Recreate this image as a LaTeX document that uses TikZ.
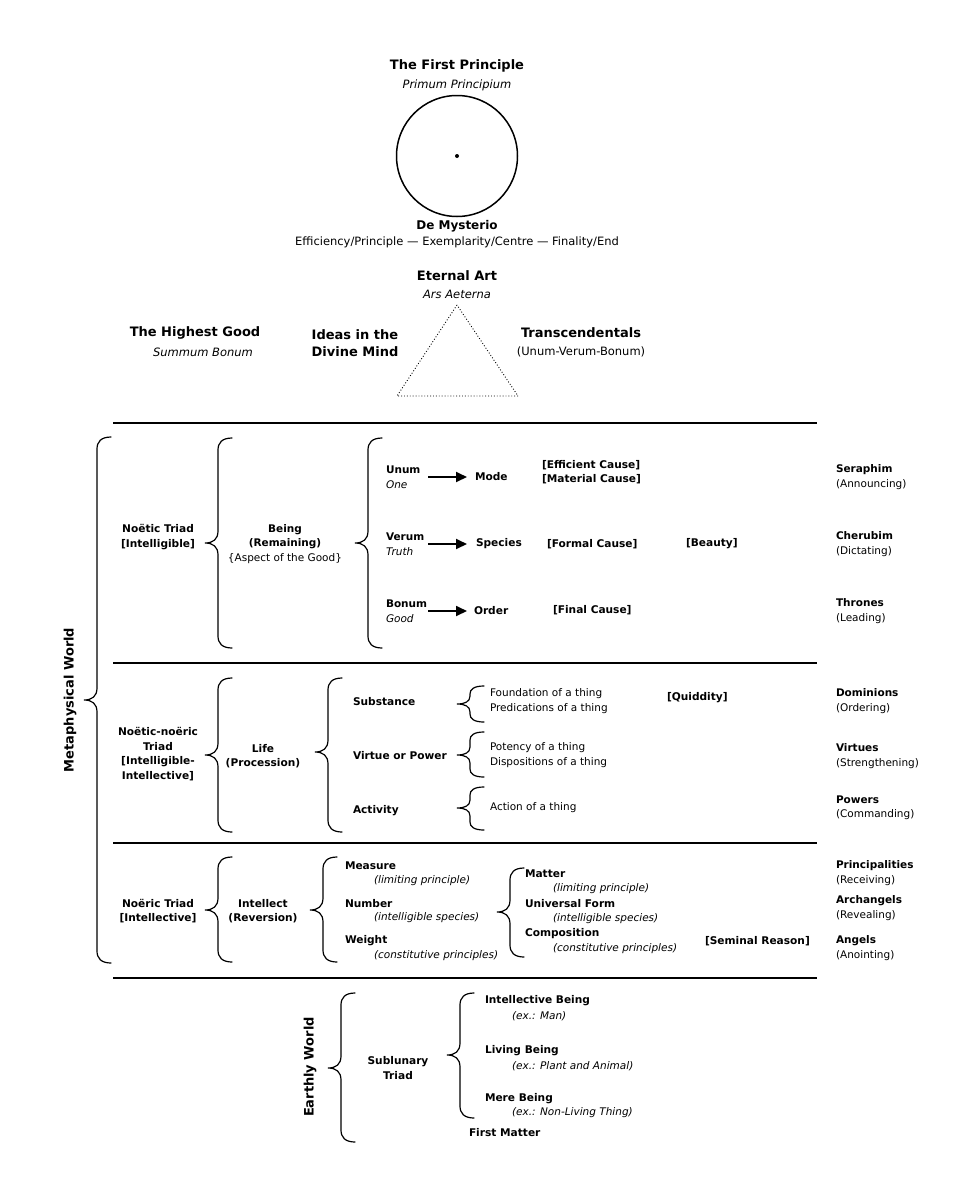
\documentclass[tikz,border=0pt]{standalone}
\usepackage{fontspec}
\setmainfont{DejaVu Sans}
\usetikzlibrary{arrows.meta}
\newcommand\brc[5][10]{%
  \draw[bracepath] ({#2+14},{#3}) .. controls ({#2+4},{#3}) and ({#2},{#3+0.4*#1}) .. ({#2},{#3+#1})
   -- ({#2},{#5-#1}) .. controls ({#2},{#5-0.3*#1}) and ({#2-5},{#5}) .. ({#2-13},{#5})
   .. controls ({#2-5},{#5}) and ({#2},{#5+0.3*#1}) .. ({#2},{#5+#1})
   -- ({#2},{#4-#1}) .. controls ({#2},{#4-0.4*#1}) and ({#2+4},{#4}) .. ({#2+14},{#4});}
\begin{document}
\begin{tikzpicture}[x=1pt,y=-1pt,
  every node/.style={inner sep=0pt,outer sep=0pt},
  hd/.style={font=\fontsize{13}{17}\selectfont\bfseries,align=center},
  subtxt/.style={font=\fontsize{11.5}{15}\selectfont\itshape},
  toptxt/.style={font=\fontsize{11.5}{15}\selectfont},
  bb/.style={font=\fontsize{10.6}{14.5}\selectfont\bfseries},
  rg/.style={font=\fontsize{10.5}{14.5}\selectfont},
  it/.style={font=\fontsize{10.5}{14.5}\selectfont\itshape},
  lft/.style={anchor=west,align=left},
  ctr/.style={align=center},
  sidelbl/.style={font=\fontsize{13}{17}\selectfont\bfseries,rotate=90},
  divider/.style={line width=1.8pt},
  bracepath/.style={line width=1.2pt,line cap=round},
  arr/.style={line width=1.8pt,-{Triangle[length=11pt,width=10pt]}},
  tri/.style={text width=42pt}]
\useasboundingbox[fill=white] (0,0) rectangle (975,1200);
% top
\node[hd] (fp) at (457,66) {The First Principle};
\node[subtxt] (pp) at (457,85) {Primum Principium};
\node[circle,draw,line width=1.5pt,minimum size=121pt] (circ) at (457,156) {};
\fill (circ.center) circle (2pt);
\node[font=\fontsize{12}{15}\selectfont\bfseries] (dm) at (457,226) {De Mysterio};
\node[toptxt] (eff) at (457,242) {Efficiency/Principle — Exemplarity/Centre — Finality/End};
\node[hd] (ea) at (457,276) {Eternal Art};
\node[subtxt] (aa) at (457,294) {Ars Aeterna};
\coordinate (tA) at (457,305);
\coordinate (tB) at (397,396);
\coordinate (tC) at (518,396);
\draw[dotted,line width=0.9pt] (tA) -- (tB) -- (tC) -- cycle;
\node[hd] (hg) at (195,333) {The Highest Good};
\node[subtxt] (sb) at (203,352) {Summum Bonum};
\node[hd] (idm) at (355,343) {Ideas in the\\Divine Mind};
\node[hd] (tr) at (581,333) {Transcendentals};
\node[toptxt] (uvb) at (581,352) {(Unum-Verum-Bonum)};
% dividers
\foreach \yy in {423,663,843,978} \draw[divider] (113,\yy) -- (817,\yy);
% metaphysical
\brc[12]{97}{437}{963}{700}
\node[sidelbl] (mw) at (70,700) {Metaphysical World};
% section 1
\node[bb,ctr] (nt) at (158,537) {Noëtic Triad\\[0pt][Intelligible]};
\brc[12]{218}{438}{648}{543}
\node[rg,ctr] (being) at (285,544) {\textbf{Being}\\\textbf{(Remaining)}\\\{Aspect of the Good\}};
\brc[12]{368}{438}{648}{543}
\node[rg,lft,tri] (unum) at (386,477) {\textbf{Unum}\\\textit{One}};
\node[bb,lft] (mode) at (475,477) {Mode};
\draw[arr,shorten >=8pt] (unum.east) -- (mode.west);
\node[bb,lft] (effc) at (542,472) {[Efficient Cause]\\[0pt][Material Cause]};
\node[rg,lft] (ser) at (836,477) {\textbf{Seraphim}\\(Announcing)};
\node[rg,lft,tri] (verum) at (386,544) {\textbf{Verum}\\\textit{Truth}};
\node[bb,lft] (species) at (476,544) {Species};
\draw[arr,shorten >=9pt] (verum.east) -- (species.west);
\node[bb,lft] (formal) at (547,544) {[Formal Cause]};
\node[bb,lft] (beauty) at (686,544) {[Beauty]};
\node[rg,lft] (cher) at (836,544) {\textbf{Cherubim}\\(Dictating)};
\node[rg,lft,tri] (bonum) at (386,611) {\textbf{Bonum}\\\textit{Good}};
\node[bb,lft] (order) at (474,611) {Order};
\draw[arr,shorten >=7pt] (bonum.east) -- (order.west);
\node[bb,lft] (final) at (553,610) {[Final Cause]};
\node[rg,lft] (thr) at (836,611) {\textbf{Thrones}\\(Leading)};
% section 2
\node[bb,ctr] (nnt) at (158,754) {Noëtic-noëric\\Triad\\[0pt][Intelligible-\\Intellective]};
\brc[12]{218}{678}{832}{755}
\node[bb,ctr] (life) at (263,756) {Life\\(Procession)};
\brc[12]{328}{678}{832}{752}
\node[bb,lft] (subst) at (353,702) {Substance};
\node[bb,lft] (virt) at (353,756) {Virtue or Power};
\node[bb,lft] (activ) at (353,811) {Activity};
\brc[8]{470}{686}{722}{704}
\brc[8]{470}{732}{777}{755}
\brc[8]{470}{787}{830}{808}
\node[rg,lft] (found) at (490,701) {Foundation of a thing\\Predications of a thing};
\node[rg,lft] (pot) at (490,755) {Potency of a thing\\Dispositions of a thing};
\node[rg,lft] (act) at (490,808) {Action of a thing};
\node[bb,lft] (quid) at (667,698) {[Quiddity]};
\node[rg,lft] (dom) at (836,701) {\textbf{Dominions}\\(Ordering)};
\node[rg,lft] (vir) at (836,756) {\textbf{Virtues}\\(Strengthening)};
\node[rg,lft] (pow) at (836,808) {\textbf{Powers}\\(Commanding)};
% section 3
\node[bb,ctr] (nrt) at (158,911) {Noëric Triad\\[0pt][Intellective]};
\brc[12]{218}{857}{962}{910}
\node[bb,ctr] (intel) at (263,911) {Intellect\\(Reversion)};
\brc[12]{323}{857}{962}{910}
\node[bb,lft] (meas) at (345,866) {Measure};
\node[it,lft] (lim1) at (374,881) {(limiting principle)};
\node[bb,lft] (numb) at (345,904) {Number};
\node[it,lft] (isp1) at (374,918) {(intelligible species)};
\node[bb,lft] (weig) at (345,941) {Weight};
\node[it,lft] (cp1) at (374,956) {(constitutive principles)};
\brc[12]{510}{868}{957}{912}
\node[bb,lft] (matt) at (525,874) {Matter};
\node[it,lft] (lim2) at (553,889) {(limiting principle)};
\node[bb,lft] (unif) at (525,904) {Universal Form};
\node[it,lft] (isp2) at (553,919) {(intelligible species)};
\node[bb,lft] (comp) at (525,934) {Composition};
\node[it,lft] (cp2) at (553,949) {(constitutive principles)};
\node[bb,lft] (sem) at (705,941) {[Seminal Reason]};
\node[rg,lft] (prin) at (836,873) {\textbf{Principalities}\\(Receiving)};
\node[rg,lft] (arch) at (836,908) {\textbf{Archangels}\\(Revealing)};
\node[rg,lft] (ang) at (836,948) {\textbf{Angels}\\(Anointing)};
% earthly
\node[sidelbl] (ew) at (310,1067) {Earthly World};
\brc[12]{341}{993}{1142}{1068}
\node[bb,ctr] (subl) at (398,1068) {Sublunary\\Triad};
\brc[12]{460}{993}{1118}{1055}
\node[bb,lft] (ib) at (485,1001) {Intellective Being};
\node[it,lft] (man) at (512,1016) {(ex.: Man)};
\node[bb,lft] (lb) at (485,1051) {Living Being};
\node[it,lft] (pa) at (512,1066) {(ex.: Plant and Animal)};
\node[bb,lft] (mb) at (485,1099) {Mere Being};
\node[it,lft] (nl) at (512,1113) {(ex.: Non-Living Thing)};
\node[bb,lft] (fm) at (469,1133) {First Matter};
\end{tikzpicture}
\end{document}
